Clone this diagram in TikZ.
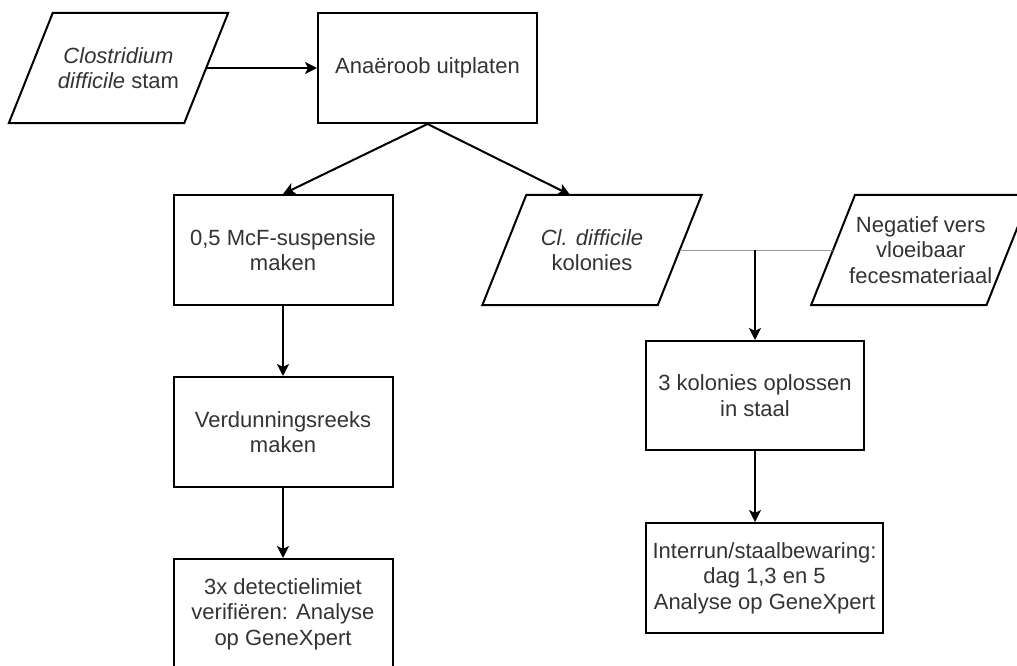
\documentclass[tikz,border=0pt]{standalone}
\usepackage{fontspec}
\setmainfont{Liberation Sans}
\usetikzlibrary{arrows.meta,calc}
\definecolor{txt}{HTML}{333333}
\definecolor{link}{HTML}{9A9A9A}

\begin{document}
\begin{tikzpicture}[x=1pt,y=-1pt,
  every node/.style={font=\fontsize{22}{25.5}\selectfont, text=txt,
    align=center, inner sep=0pt},
  outline/.style={draw=black, line width=2pt, line join=miter},
  stepbox/.style={outline, minimum width=219pt, minimum height=110pt},
  ioshape/.style={minimum width=175pt, minimum height=110pt},
  flow/.style={line width=2pt, -{Stealth[length=12pt,width=12pt,inset=3pt]}},
  joinline/.style={draw=link, line width=1pt}
]
\useasboundingbox (0,0) rectangle (1017,666);
\clip (0,0) rectangle (1017,666);

% input / output shapes (parallelograms drawn around plain nodes)
\node[ioshape] (clos) at (118.5,68) {\textit{Clostridium}\\\textit{difficile} stam};
\node[ioshape] (cl)   at (592,250)    {\textit{Cl. difficile}\\kolonies};
\node[ioshape] (neg)  at (920.75,250) {Negatief vers\\vloeibaar\\fecesmateriaal};
\foreach \n in {clos,cl,neg}
  \draw[outline] ($(\n.north west)+(22,0)$) -- ($(\n.north east)+(22,0)$)
    -- ($(\n.south east)+(-22,0)$) -- ($(\n.south west)+(-22,0)$) -- cycle;

% process steps
\node[stepbox] (anaer) at (427.5,68)  {Anaëroob uitplaten};
\node[stepbox] (mcf)   at (283,250) {0,5 McF-suspensie\\maken};
\node[stepbox] (verd)  at (283,432) {Verdunningsreeks\\maken};
\node[stepbox] (det)   at (283,614) {3x detectielimiet\\verifiëren: Analyse\\op GeneXpert};
\node[stepbox, minimum width=218pt, minimum height=109pt] (kol) at (755,395.5)
  {3 kolonies oplossen\\in staal};
\node[stepbox, minimum width=237pt] (inter) at (764.5,578)
  {Interrun/staalbewaring:\\dag 1,3 en 5\\Analyse op GeneXpert};

% connectors
\draw[flow] (clos.east) -- (anaer.west);
\draw[flow] (anaer.south) -- (mcf.north);
\draw[flow] (anaer.south) -- ($(cl.north)+(-22,0)$);
\draw[flow] (mcf.south) -- (verd.north);
\draw[flow] (verd.south) -- (det.north);
\draw[joinline] (cl.east) -- (neg.west);
\coordinate (merge) at (kol.north |- cl.east);
\draw[flow] (merge) -- (kol.north);
\draw[flow] (kol.south) -- (kol.south |- inter.north);
\end{tikzpicture}
\end{document}
